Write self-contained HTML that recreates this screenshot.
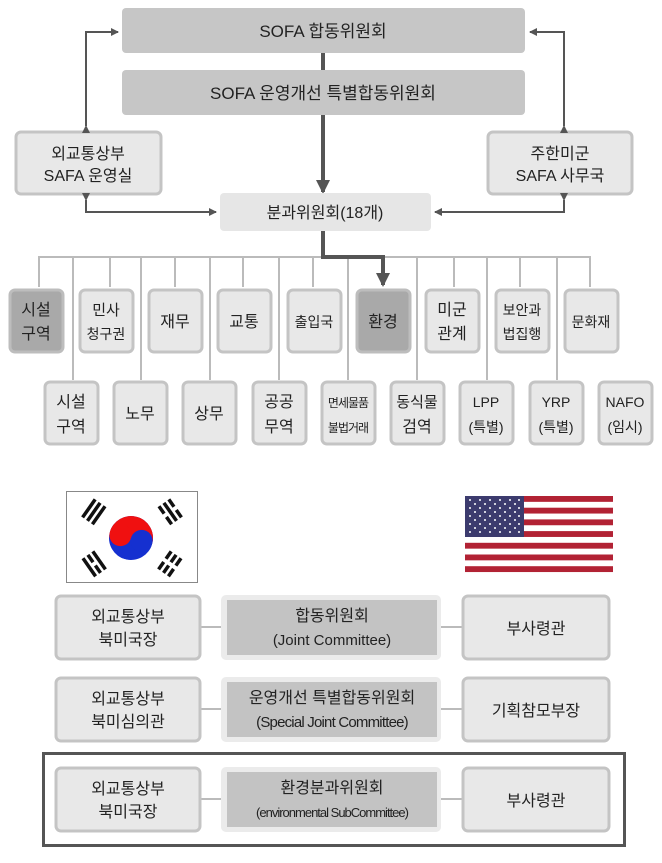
<!DOCTYPE html>
<html><head><meta charset="utf-8"><style>
html,body{margin:0;padding:0;background:#fff;}
svg text{font-family:"Liberation Sans","Noto Sans CJK KR",sans-serif;fill:#222;text-anchor:middle;}
</style></head><body>
<svg width="662" height="858" viewBox="0 0 662 858" xmlns="http://www.w3.org/2000/svg">
<defs>
<marker id="ah" markerWidth="8" markerHeight="8" refX="7" refY="4" orient="auto" markerUnits="userSpaceOnUse"><path d="M0,0 L8,4 L0,8 z" fill="#555"/></marker>
<marker id="ab" markerWidth="14" markerHeight="14" refX="12" refY="7" orient="auto" markerUnits="userSpaceOnUse"><path d="M0,0 L14,7 L0,14 z" fill="#555"/></marker>
<clipPath id="tc"><circle cx="0" cy="0" r="22"/></clipPath>
</defs>
<rect x="122" y="8" width="403" height="45" rx="4" fill="#c6c6c6"/>
<text x="323" y="37" font-size="17">SOFA 합동위원회</text>
<rect x="122" y="70" width="403" height="45" rx="4" fill="#c6c6c6"/>
<text x="323" y="99" font-size="17">SOFA 운영개선 특별합동위원회</text>
<line x1="323" y1="53" x2="323" y2="70" stroke="#555" stroke-width="4"/>
<line x1="323" y1="115" x2="323" y2="192" stroke="#555" stroke-width="4" marker-end="url(#ab)"/>
<rect x="16" y="132" width="145" height="62" rx="5" fill="#e8e8e8" stroke="#c4c4c4" stroke-width="3"/>
<text x="88" y="159" font-size="16">외교통상부</text><text x="88" y="181" font-size="16">SAFA 운영실</text>
<rect x="488" y="132" width="144" height="62" rx="5" fill="#e8e8e8" stroke="#c4c4c4" stroke-width="3"/>
<text x="560" y="159" font-size="16">주한미군</text><text x="560" y="181" font-size="16">SAFA 사무국</text>
<rect x="220" y="193" width="211" height="38" rx="4" fill="#e6e6e6"/>
<text x="325" y="218" font-size="16">분과위원회(18개)</text>
<g stroke="#555" stroke-width="2" fill="none">
<polyline points="86,126 86,32 118,32" marker-end="url(#ah)" marker-start="url(#ah)"/>
<polyline points="86,200 86,212 216,212" marker-end="url(#ah)" marker-start="url(#ah)"/>
<polyline points="564,126 564,32 530,32" marker-end="url(#ah)" marker-start="url(#ah)"/>
<polyline points="564,200 564,212 435,212" marker-end="url(#ah)" marker-start="url(#ah)"/>
</g>
<g stroke="#bbb" stroke-width="2">
<line x1="38" y1="257" x2="591" y2="257"/>
<line x1="39" y1="257" x2="39" y2="287"/><line x1="110" y1="257" x2="110" y2="287"/><line x1="175" y1="257" x2="175" y2="287"/><line x1="243" y1="257" x2="243" y2="287"/><line x1="313" y1="257" x2="313" y2="287"/><line x1="454" y1="257" x2="454" y2="287"/><line x1="520" y1="257" x2="520" y2="287"/><line x1="590" y1="257" x2="590" y2="287"/>
<line x1="73" y1="257" x2="73" y2="380"/><line x1="141" y1="257" x2="141" y2="380"/><line x1="210" y1="257" x2="210" y2="380"/><line x1="279" y1="257" x2="279" y2="380"/><line x1="348" y1="257" x2="348" y2="380"/><line x1="417" y1="257" x2="417" y2="380"/><line x1="487" y1="257" x2="487" y2="380"/><line x1="557" y1="257" x2="557" y2="380"/>
</g>
<polyline points="323,231 323,257 383,257 383,285" stroke="#555" stroke-width="4" fill="none" marker-end="url(#ab)"/>
<g stroke-width="3">
<rect x="10" y="290" width="53" height="62" rx="5" fill="#a9a9a9" stroke="#bdbdbd"/>
<rect x="80" y="290" width="53" height="62" rx="5" fill="#e8e8e8" stroke="#c4c4c4"/>
<rect x="149" y="290" width="53" height="62" rx="5" fill="#e8e8e8" stroke="#c4c4c4"/>
<rect x="218" y="290" width="53" height="62" rx="5" fill="#e8e8e8" stroke="#c4c4c4"/>
<rect x="288" y="290" width="53" height="62" rx="5" fill="#e8e8e8" stroke="#c4c4c4"/>
<rect x="357" y="290" width="53" height="62" rx="5" fill="#a9a9a9" stroke="#bdbdbd"/>
<rect x="426" y="290" width="53" height="62" rx="5" fill="#e8e8e8" stroke="#c4c4c4"/>
<rect x="496" y="290" width="53" height="62" rx="5" fill="#e8e8e8" stroke="#c4c4c4"/>
<rect x="565" y="290" width="53" height="62" rx="5" fill="#e8e8e8" stroke="#c4c4c4"/>
</g>
<g font-size="16">
<text x="36" y="315">시설</text><text x="36" y="339">구역</text>
<text x="106" y="315" font-size="15">민사</text><text x="106" y="339" font-size="14">청구권</text>
<text x="175" y="327">재무</text>
<text x="244" y="327">교통</text>
<text x="314" y="327" font-size="14">출입국</text>
<text x="383" y="327">환경</text>
<text x="452" y="315">미군</text><text x="452" y="339">관계</text>
<text x="522" y="315" font-size="14">보안과</text><text x="522" y="339" font-size="14">법집행</text>
<text x="591" y="327" font-size="14">문화재</text>
</g>
<g stroke-width="3" fill="#e8e8e8" stroke="#c4c4c4">
<rect x="45" y="382" width="53" height="62" rx="5"/>
<rect x="114" y="382" width="53" height="62" rx="5"/>
<rect x="183" y="382" width="53" height="62" rx="5"/>
<rect x="253" y="382" width="53" height="62" rx="5"/>
<rect x="322" y="382" width="53" height="62" rx="5"/>
<rect x="391" y="382" width="53" height="62" rx="5"/>
<rect x="460" y="382" width="53" height="62" rx="5"/>
<rect x="530" y="382" width="53" height="62" rx="5"/>
<rect x="599" y="382" width="53" height="62" rx="5"/>
</g>
<g font-size="16">
<text x="71" y="407">시설</text><text x="71" y="432">구역</text>
<text x="140" y="419">노무</text>
<text x="209" y="419">상무</text>
<text x="279" y="407">공공</text><text x="279" y="432">무역</text>
<text x="348" y="407" font-size="12" letter-spacing="-1">면세물품</text><text x="348" y="432" font-size="12" letter-spacing="-1">불법거래</text>
<text x="417" y="407" font-size="15">동식물</text><text x="417" y="432">검역</text>
<text x="486" y="407" font-size="14">LPP</text><text x="486" y="432" font-size="14">(특별)</text>
<text x="556" y="407" font-size="14">YRP</text><text x="556" y="432" font-size="14">(특별)</text>
<text x="625" y="407" font-size="14">NAFO</text><text x="625" y="432" font-size="14">(임시)</text>
</g>
<rect x="66.5" y="491.5" width="131" height="91" fill="#fff" stroke="#888" stroke-width="1"/>
<g transform="translate(131,538) rotate(15)">
<g clip-path="url(#tc)">
<rect x="-22" y="-22" width="44" height="44" fill="#1530d0"/>
<rect x="-22" y="-22" width="44" height="22" fill="#f01010"/>
<circle cx="-11" cy="0" r="11" fill="#f01010"/>
<circle cx="11" cy="0" r="11" fill="#1530d0"/>
</g>
</g>
<g fill="#111">
<g transform="translate(94,512) rotate(-55)"><rect x="-11" y="-8" width="22" height="3.5"/><rect x="-11" y="-2" width="22" height="3.5"/><rect x="-11" y="4" width="22" height="3.5"/></g>
<g transform="translate(170,512) rotate(55)"><rect x="-11" y="-8" width="9" height="3.5"/><rect x="2" y="-8" width="9" height="3.5"/><rect x="-11" y="-2" width="22" height="3.5"/><rect x="-11" y="4" width="9" height="3.5"/><rect x="2" y="4" width="9" height="3.5"/></g>
<g transform="translate(94,564) rotate(55)"><rect x="-11" y="-8" width="22" height="3.5"/><rect x="-11" y="-2" width="9" height="3.5"/><rect x="2" y="-2" width="9" height="3.5"/><rect x="-11" y="4" width="22" height="3.5"/></g>
<g transform="translate(170,564) rotate(-55)"><rect x="-11" y="-8" width="9" height="3.5"/><rect x="2" y="-8" width="9" height="3.5"/><rect x="-11" y="-2" width="9" height="3.5"/><rect x="2" y="-2" width="9" height="3.5"/><rect x="-11" y="4" width="9" height="3.5"/><rect x="2" y="4" width="9" height="3.5"/></g>
</g>
<g>
<rect x="465" y="496" width="148" height="76" fill="#fff"/>
<g fill="#b22234">
<rect x="465" y="496" width="148" height="5.85"/><rect x="465" y="507.7" width="148" height="5.85"/><rect x="465" y="519.4" width="148" height="5.85"/><rect x="465" y="531.1" width="148" height="5.85"/><rect x="465" y="542.8" width="148" height="5.85"/><rect x="465" y="554.5" width="148" height="5.85"/><rect x="465" y="566.2" width="148" height="5.85"/>
</g>
<rect x="465" y="496" width="59" height="41" fill="#3c3b6e"/>
<g fill="#fff">
<circle cx="470" cy="500" r="1"/><circle cx="480" cy="500" r="1"/><circle cx="490" cy="500" r="1"/><circle cx="500" cy="500" r="1"/><circle cx="510" cy="500" r="1"/><circle cx="519" cy="500" r="1"/>
<circle cx="475" cy="504" r="1"/><circle cx="485" cy="504" r="1"/><circle cx="495" cy="504" r="1"/><circle cx="505" cy="504" r="1"/><circle cx="515" cy="504" r="1"/>
<circle cx="470" cy="508" r="1"/><circle cx="480" cy="508" r="1"/><circle cx="490" cy="508" r="1"/><circle cx="500" cy="508" r="1"/><circle cx="510" cy="508" r="1"/><circle cx="519" cy="508" r="1"/>
<circle cx="475" cy="512" r="1"/><circle cx="485" cy="512" r="1"/><circle cx="495" cy="512" r="1"/><circle cx="505" cy="512" r="1"/><circle cx="515" cy="512" r="1"/>
<circle cx="470" cy="516" r="1"/><circle cx="480" cy="516" r="1"/><circle cx="490" cy="516" r="1"/><circle cx="500" cy="516" r="1"/><circle cx="510" cy="516" r="1"/><circle cx="519" cy="516" r="1"/>
<circle cx="475" cy="520" r="1"/><circle cx="485" cy="520" r="1"/><circle cx="495" cy="520" r="1"/><circle cx="505" cy="520" r="1"/><circle cx="515" cy="520" r="1"/>
<circle cx="470" cy="524" r="1"/><circle cx="480" cy="524" r="1"/><circle cx="490" cy="524" r="1"/><circle cx="500" cy="524" r="1"/><circle cx="510" cy="524" r="1"/><circle cx="519" cy="524" r="1"/>
<circle cx="475" cy="528" r="1"/><circle cx="485" cy="528" r="1"/><circle cx="495" cy="528" r="1"/><circle cx="505" cy="528" r="1"/><circle cx="515" cy="528" r="1"/>
<circle cx="470" cy="532" r="1"/><circle cx="480" cy="532" r="1"/><circle cx="490" cy="532" r="1"/><circle cx="500" cy="532" r="1"/><circle cx="510" cy="532" r="1"/><circle cx="519" cy="532" r="1"/>
</g>
</g>
<rect x="43.5" y="753.5" width="581" height="92" fill="none" stroke="#555" stroke-width="3"/>
<g stroke="#bbb" stroke-width="2">
<line x1="200" y1="627" x2="221" y2="627"/><line x1="441" y1="627" x2="462" y2="627"/>
<line x1="200" y1="709" x2="221" y2="709"/><line x1="441" y1="709" x2="462" y2="709"/>
<line x1="200" y1="799" x2="221" y2="799"/><line x1="441" y1="799" x2="462" y2="799"/>
</g>
<g stroke-width="3">
<rect x="56" y="596" width="144" height="63" rx="5" fill="#e8e8e8" stroke="#c4c4c4"/>
<rect x="221" y="595" width="220" height="65" rx="5" fill="#ebebeb"/>
<rect x="227" y="600" width="210" height="55" fill="#c3c3c3" stroke="none"/>
<rect x="463" y="596" width="146" height="63" rx="5" fill="#e8e8e8" stroke="#c4c4c4"/>
<rect x="56" y="678" width="144" height="63" rx="5" fill="#e8e8e8" stroke="#c4c4c4"/>
<rect x="221" y="677" width="220" height="65" rx="5" fill="#ebebeb"/>
<rect x="227" y="682" width="210" height="55" fill="#c3c3c3" stroke="none"/>
<rect x="463" y="678" width="146" height="63" rx="5" fill="#e8e8e8" stroke="#c4c4c4"/>
<rect x="56" y="768" width="144" height="63" rx="5" fill="#e8e8e8" stroke="#c4c4c4"/>
<rect x="221" y="767" width="220" height="65" rx="5" fill="#ebebeb"/>
<rect x="227" y="772" width="210" height="55" fill="#c3c3c3" stroke="none"/>
<rect x="463" y="768" width="146" height="63" rx="5" fill="#e8e8e8" stroke="#c4c4c4"/>
</g>
<g font-size="16">
<text x="128" y="622">외교통상부</text><text x="128" y="645">북미국장</text>
<text x="332" y="621">합동위원회</text><text x="332" y="645" font-size="15">(Joint Committee)</text>
<text x="536" y="634">부사령관</text>
<text x="128" y="704">외교통상부</text><text x="128" y="727">북미심의관</text>
<text x="332" y="703">운영개선 특별합동위원회</text><text x="332" y="727" font-size="15" letter-spacing="-0.8">(Special Joint Committee)</text>
<text x="536" y="716">기획참모부장</text>
<text x="128" y="794">외교통상부</text><text x="128" y="817">북미국장</text>
<text x="332" y="793">환경분과위원회</text><text x="332" y="817" font-size="13" letter-spacing="-1">(environmental SubCommittee)</text>
<text x="536" y="806">부사령관</text>
</g>
</svg>
</body></html>
